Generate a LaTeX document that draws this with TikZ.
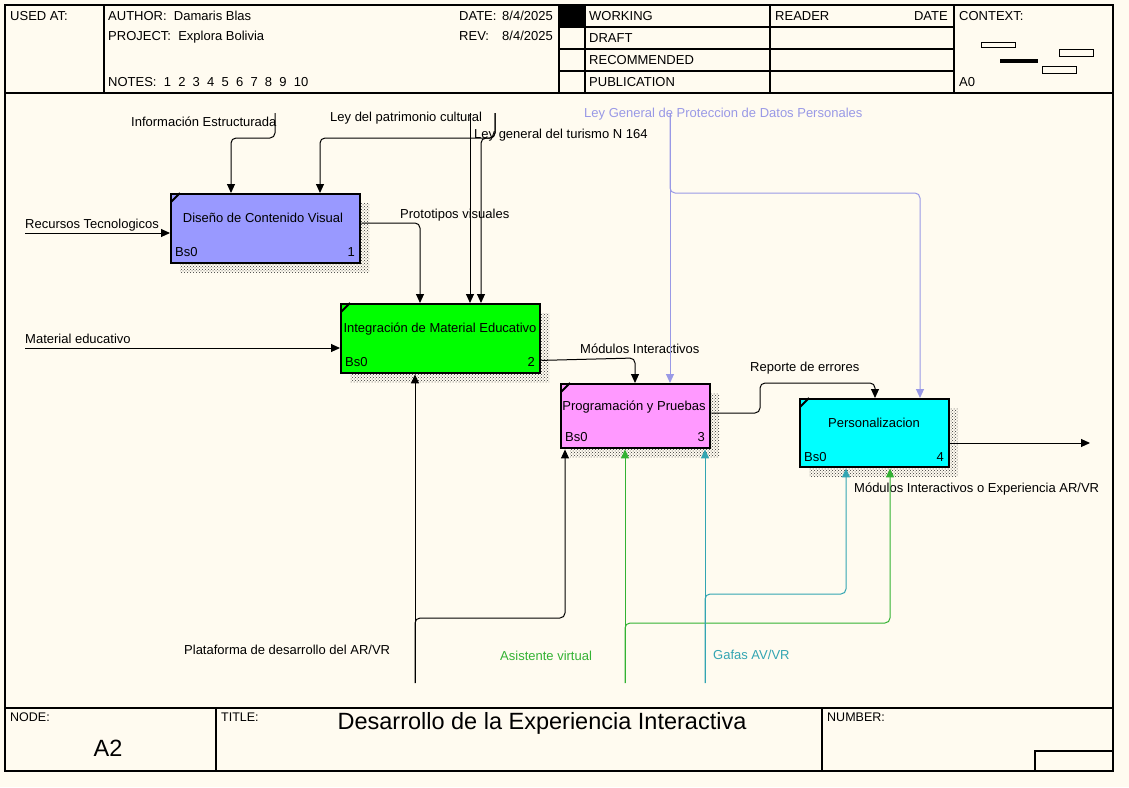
\documentclass[tikz,border=0pt]{standalone}
\usepackage{fontspec}
\setmainfont{Liberation Sans}
\usetikzlibrary{arrows.meta,patterns,calc}

\definecolor{paper}{RGB}{255,251,240}
\definecolor{boxblue}{RGB}{153,153,255}
\definecolor{boxgreen}{RGB}{0,255,0}
\definecolor{boxpink}{RGB}{255,153,255}
\definecolor{boxcyan}{RGB}{0,255,255}
\definecolor{lav}{RGB}{153,153,230}
\definecolor{grn}{RGB}{51,178,51}
\definecolor{tealc}{RGB}{51,165,178}

\tikzset{
  txt/.style={font=\fontsize{13}{15}\selectfont, inner sep=0, anchor=base west},
  txtr/.style={txt, anchor=base east},
  txtc/.style={txt, anchor=base},
  small/.style={font=\fontsize{12.5}{14}\selectfont, inner sep=0, anchor=base west},
  big/.style={font=\fontsize{23.5}{27}\selectfont, inner sep=0, anchor=base},
  frame/.style={line width=1.2pt},
  act/.style={draw, line width=2.4pt, inner sep=0, anchor=north west},
  shade/.style={pattern=crosshatch dots, pattern color=black!80},
  flow/.style={line width=1pt, rounded corners=5pt, -{Triangle[length=9pt,width=8pt]}}
}

\begin{document}
\begin{tikzpicture}[x=1pt,y=-1pt]
\useasboundingbox (0,0) rectangle (1129,787);
\fill[paper] (0,0) rectangle (1129,787);

% ---- sheet frame ----
\draw[frame] (5,5) rectangle (1113,771);
\draw[frame] (5,93) -- (1113,93);
\draw[frame] (104,5) -- (104,93);
\draw[frame] (559,5) -- (559,93);
\draw[frame] (585,5) -- (585,93);
\draw[frame] (770,5) -- (770,93);
\draw[frame] (954,5) -- (954,93);
\draw[frame] (559,27) -- (954,27);
\draw[frame] (559,49) -- (954,49);
\draw[frame] (559,71) -- (954,71);
\fill (559,5) rectangle (585,27);
\draw[frame] (5,708) -- (1113,708);
\draw[frame] (216,708) -- (216,771);
\draw[frame] (822,708) -- (822,771);
\draw[frame] (1035,751) rectangle (1113,771);

% context sketch
\draw[line width=1pt] (981,42) rectangle (1015,47);
\draw[line width=1pt] (1059,49) rectangle (1093,56);
\draw[line width=1pt] (1042,66) rectangle (1076,73);
\fill (1000,59) rectangle (1038,63);

% ---- header texts ----
\node[txt] (hUsed) at (10,20.5) {USED AT:};
\node[txt] (hAuthor) at (108,20.5) {AUTHOR:\ \ Damaris Blas};
\node[txt] (hProject) at (108,40.5) {PROJECT:\ \ Explora Bolivia};
\node[txt] (hNotes) at (108,86.5) {NOTES:\ \ 1\ \ 2\ \ 3\ \ 4\ \ 5\ \ 6\ \ 7\ \ 8\ \ 9\ \ 10};
\node[txt] (hDate) at (459,20.5) {DATE:};
\node[txtr] (hDateV) at (553,20.5) {8/4/2025};
\node[txt] (hRev) at (459,40.5) {REV:};
\node[txtr] (hRevV) at (553,40.5) {8/4/2025};
\node[txt] (hWork) at (589,20.5) {WORKING};
\node[txt] (hDraft) at (589,42.5) {DRAFT};
\node[txt] (hRec) at (589,64.5) {RECOMMENDED};
\node[txt] (hPub) at (589,86.5) {PUBLICATION};
\node[txt] (hReader) at (775,20.5) {READER};
\node[txtr] (hRDate) at (948,20.5) {DATE};
\node[txt] (hContext) at (959,20.5) {CONTEXT:};
\node[txt] (hA0) at (959,86.5) {A0};

% ---- footer texts ----
\node[small] (fNode) at (10,721.5) {NODE:};
\node[big] (fA2) at (108,756) {A2};
\node[small] (fTitle) at (221,721.5) {TITLE:};
\node[big] (fTitleV) at (542,729) {Desarrollo de la Experiencia Interactiva};
\node[small] (fNumber) at (827,721.5) {NUMBER:};

% ---- activity shadows ----
\fill[shade] (180,203) rectangle (369,272);
\fill[shade] (350,313) rectangle (549,382);
\fill[shade] (570,393) rectangle (719,457);
\fill[shade] (809,408) rectangle (958,476);

% ---- activities ----
\node[act, fill=boxblue, minimum width=189pt, minimum height=69pt] (b1) at (170,193) {};
\node[act, fill=boxgreen, minimum width=199pt, minimum height=69pt] (b2) at (340,303) {};
\node[act, fill=boxpink, minimum width=149pt, minimum height=64pt] (b3) at (560,383) {};
\node[act, fill=boxcyan, minimum width=149pt, minimum height=68pt] (b4) at (799,398) {};

\draw[line width=2pt] (171,202) -- (180,193);
\draw[line width=2pt] (341,312) -- (350,303);
\draw[line width=2pt] (561,392) -- (570,383);
\draw[line width=2pt] (800,407) -- (809,398);

\node[txtc] (t1) at (263,222.5) {Diseño de Contenido Visual};
\node[txt] (t1a) at (175,256.5) {Bs0};
\node[txtr] (t1b) at (355,256.5) {1};
\node[txtc] (t2) at (440,332.5) {Integración de Material Educativo};
\node[txt] (t2a) at (345,366.5) {Bs0};
\node[txtr] (t2b) at (535,366.5) {2};
\node[txtc] (t3) at (634,410.5) {Programación y Pruebas};
\node[txt] (t3a) at (565,441.5) {Bs0};
\node[txtr] (t3b) at (705,441.5) {3};
\node[txtc] (t4) at (874,427.5) {Personalizacion};
\node[txt] (t4a) at (804,461.5) {Bs0};
\node[txtr] (t4b) at (944,461.5) {4};

% ---- arrow labels ----
\node[txt] (lInfo) at (131,126.5) {Información Estructurada};
\node[txt] (lPatr) at (330,121.5) {Ley del patrimonio cultural};
\node[txt] (lTur) at (474,138.5) {Ley general del turismo N 164};
\node[txt, text=lav] (lDatos) at (584,117.5) {Ley General de Proteccion de Datos Personales};
\node[txt] (lRec) at (25,228.5) {Recursos Tecnologicos};
\node[txt] (lProt) at (400,218.5) {Prototipos visuales};
\node[txt] (lMat) at (25,343.5) {Material educativo};
\node[txt] (lMod) at (580,353.5) {Módulos Interactivos};
\node[txt] (lRep) at (750,371.5) {Reporte de errores};
\node[txt] (lOut) at (854,492.5) {Módulos Interactivos o Experiencia AR/VR};
\node[txt] (lPlat) at (184,654.5) {Plataforma de desarrollo del AR/VR};
\node[txt, text=grn] (lAsis) at (500,660.5) {Asistente virtual};
\node[txt, text=tealc] (lGaf) at (713,659.5) {Gafas AV/VR};

% ---- boundary points ----
\coordinate (srcRec) at (25,233);
\coordinate (srcMat) at (25,348);
\coordinate (srcInfo) at (275,113);
\coordinate (srcPatr) at (495,113);
\coordinate (srcTur) at (470,113);
\coordinate (srcDatos) at (670,113);
\coordinate (srcPlat) at (415,683);
\coordinate (srcAsis) at (625,683);
\coordinate (srcGaf) at (705,683);
\coordinate (outMod) at (1090,443);

% ---- inputs ----
\draw[flow] (srcRec) -- (srcRec -| b1.west);
\draw[flow] (srcMat) -- (srcMat -| b2.west);

% ---- controls ----
\draw[flow] (srcInfo) -- (275,138) -- (231,138) -- (b1.north -| 231,138);
\draw[flow] (srcPatr) -- (495,138) -- (320,138) -- (b1.north -| 320,138);
\draw[flow] (srcPatr) -- (495,138) -- (481,138) -- (b2.north -| 481,138);
\draw[flow] (srcTur) -- (b2.north -| srcTur);
\draw[flow, lav] (srcDatos) -- (b3.north -| srcDatos);
\draw[flow, lav] (srcDatos) -- (670,193) -- (920,193) -- (b4.north -| 920,193);

% ---- activity to activity ----
\draw[flow] ($(b1.north east)+(0,30)$) -- (420,223) -- (b2.north -| 420,223);
\draw[flow] ($(b2.south east)+(0,-14)$) -- (635,358) -- (b3.north -| 635,358);
\draw[flow] ($(b3.north east)+(0,30)$) -- (760,413) -- (760,383) -- (875,383) -- (b4.north -| 875,383);

% ---- output ----
\draw[flow] (outMod -| b4.east) -- (outMod);

% ---- mechanisms ----
\draw[flow] (srcPlat) -- (b2.south -| srcPlat);
\draw[flow] (srcPlat) -- (415,618) -- (565,618) -- (b3.south -| 565,618);
\draw[flow, grn] (srcAsis) -- (b3.south -| srcAsis);
\draw[flow, grn] (srcAsis) -- (625,623) -- (890,623) -- (b4.south -| 890,623);
\draw[flow, tealc] (srcGaf) -- (b3.south -| srcGaf);
\draw[flow, tealc] (srcGaf) -- (705,594) -- (846,594) -- (b4.south -| 846,594);
\end{tikzpicture}
\end{document}
